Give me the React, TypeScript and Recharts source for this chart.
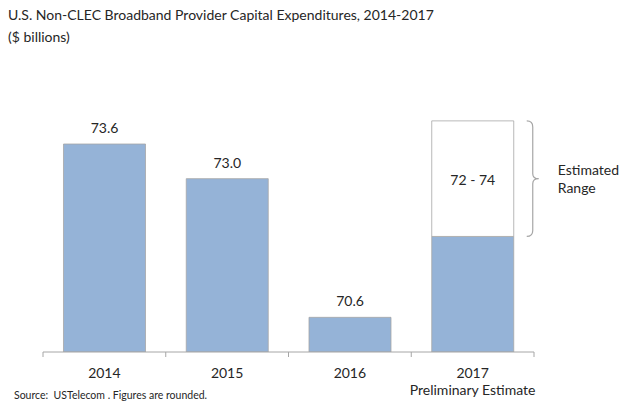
import React from "react";
import { Bar, BarChart, LabelList, XAxis, YAxis } from "recharts";

const YEARS = ["2014", "2015", "2016", "2017"];
const SUB_LABELS = ["", "", "", "Preliminary Estimate"];
const CAPEX = [73.6, 73.0, 70.6, 72.0];
const VALUE_LABELS = ["73.6", "73.0", "70.6", ""];
const RANGE_LOW = [null, null, null, 72];
const RANGE_HIGH = [null, null, null, 74];
const RANGE_LABELS = ["", "", "", "72 - 74"];
const Y_DOMAIN = [70, 74.5];

const FONT = "Lato, 'Open Sans', sans-serif";
const TEXT = "#262626";
const BLUE = "#95B3D7";
const EDGE = "#A6A6A6";

const data = YEARS.map((year, i) => ({
  year,
  sub: SUB_LABELS[i],
  capex: CAPEX[i],
  label: VALUE_LABELS[i],
  range:
    RANGE_LOW[i] != null && RANGE_HIGH[i] != null
      ? [RANGE_LOW[i], RANGE_HIGH[i]]
      : null,
  rangeLabel: RANGE_LABELS[i],
}));

function YearTick(props: any) {
  const { x, y, payload, index, visibleTicksCount, width } = props;
  const band = width / visibleTicksCount;
  const sub = SUB_LABELS[index];
  const top = y - 8;
  return (
    <g>
      <line x1={x - band / 2} x2={x - band / 2} y1={top} y2={top + 5} stroke={EDGE} />
      {index === visibleTicksCount - 1 && (
        <line x1={x + band / 2} x2={x + band / 2} y1={top} y2={top + 5} stroke={EDGE} />
      )}
      <text x={x} y={top + 26} textAnchor="middle" fontSize={14} fill={TEXT} fontFamily={FONT}>
        {payload.value}
      </text>
      {sub && (
        <text x={x} y={top + 43} textAnchor="middle" fontSize={14} fill={TEXT} fontFamily={FONT}>
          {sub}
        </text>
      )}
    </g>
  );
}

function RangeLabel(props: any) {
  const { x, y, width, height, value } = props;
  if (!value) return null;
  const bx = x + width + 13;
  const mid = y + height / 2;
  const bot = y + height;
  const brace = `M ${bx} ${y} Q ${bx + 6} ${y} ${bx + 6} ${y + 6} L ${bx + 6} ${mid - 5} Q ${bx + 6} ${mid} ${bx + 12} ${mid} Q ${bx + 6} ${mid} ${bx + 6} ${mid + 5} L ${bx + 6} ${bot - 6} Q ${bx + 6} ${bot} ${bx} ${bot}`;
  return (
    <g>
      <text x={x + width / 2} y={mid + 6} textAnchor="middle" fontSize={14} fill={TEXT} fontFamily={FONT}>
        {value}
      </text>
      <path d={brace} fill="none" stroke={EDGE} strokeWidth={1.2} />
      <text x={bx + 31} y={mid - 4} fontSize={14} fill={TEXT} fontFamily={FONT}>
        Estimated
      </text>
      <text x={bx + 31} y={mid + 14} fontSize={14} fill={TEXT} fontFamily={FONT}>
        Range
      </text>
    </g>
  );
}

export default function App() {
  return (
    <div
      style={{
        position: "absolute",
        left: 0,
        top: 0,
        width: 640,
        height: 408,
        background: "#fff",
        fontFamily: FONT,
        color: TEXT,
      }}
    >
      <div style={{ position: "absolute", left: 8, top: 4, fontSize: 14, lineHeight: "22px" }}>
        U.S. Non-CLEC Broadband Provider Capital Expenditures, 2014-2017
        <br />($ billions)
      </div>
      <BarChart
        width={640}
        height={408}
        data={data}
        margin={{ top: 92, right: 106, left: 43, bottom: 16 }}
        barCategoryGap="16.7%"
      >
        <XAxis
          xAxisId="main"
          dataKey="year"
          axisLine={{ stroke: EDGE }}
          tickLine={false}
          height={40}
          interval={0}
          tick={<YearTick />}
        />
        <XAxis xAxisId="over" dataKey="year" hide />
        <YAxis domain={Y_DOMAIN} hide allowDataOverflow />
        <Bar
          xAxisId="main"
          dataKey="capex"
          fill={BLUE}
          stroke={EDGE}
          strokeWidth={0.8}
          isAnimationActive={false}
        >
          <LabelList
            dataKey="label"
            position="top"
            offset={11}
            fontSize={14}
            fill={TEXT}
            fontFamily={FONT}
          />
        </Bar>
        <Bar
          xAxisId="over"
          dataKey="range"
          fill="#fff"
          stroke={EDGE}
          strokeWidth={0.8}
          isAnimationActive={false}
        >
          <LabelList dataKey="rangeLabel" content={<RangeLabel />} />
        </Bar>
      </BarChart>
      <div style={{ position: "absolute", left: 14, top: 389, fontSize: 10.5 }}>
        Source:&nbsp; USTelecom . Figures are rounded.
      </div>
    </div>
  );
}
